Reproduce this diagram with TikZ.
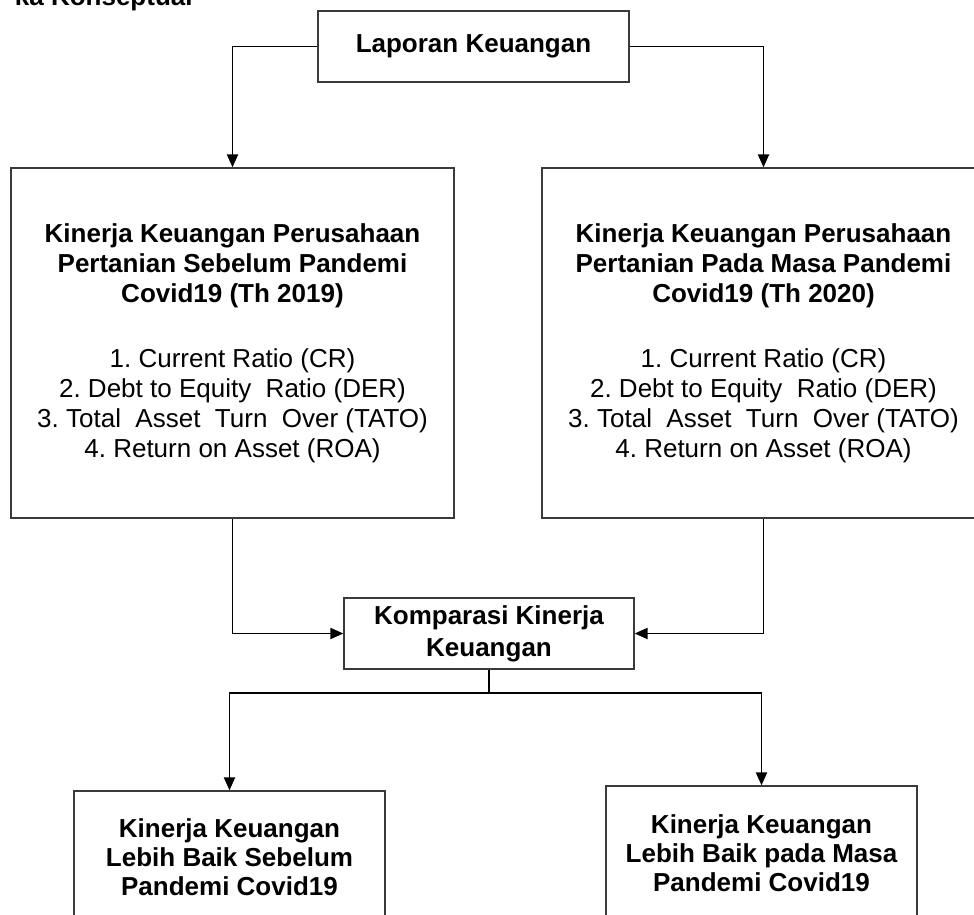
\documentclass[tikz,border=0pt]{standalone}
\usepackage{fontspec}
\setmainfont{Liberation Sans}
\usetikzlibrary{arrows.meta,positioning,calc}
\definecolor{garis}{HTML}{000000}
\definecolor{bingkai}{HTML}{3A3A3A}
\tikzset{
  kotak/.style={draw=bingkai, line width=0.7pt, align=center, inner sep=3pt,
                font=\fontsize{13}{15}\selectfont},
  kotakbawah/.style={kotak, font=\bfseries\fontsize{13}{14.5}\selectfont},
  panah/.style={-{Triangle[length=6.5pt,width=5.6pt]}, line width=0.85pt, draw=garis},
  hubung/.style={line width=0.85pt, draw=garis}
}
\newcommand{\judulbaris}[1]{{\bfseries #1}}
\frenchspacing

\begin{document}
\begin{tikzpicture}[x=0.5pt,y=-0.5pt]
  \useasboundingbox (0,0) rectangle (974,915);
  \clip (0,0) rectangle (974,915);
  % judul yang terpotong
  \node[anchor=base east, inner sep=0pt, font=\bfseries\fontsize{13}{15}\selectfont] (judul) at (193,6) {ka Konseptual};
  % kotak-kotak
  \node[kotak, font=\bfseries\fontsize{13}{15}\selectfont, minimum width=155.5pt, minimum height=35.5pt] (lap) at (473.5,46.5) {Laporan Keuangan};
  \node[kotak, minimum width=221.5pt, minimum height=175pt] (kin1) at (232.5,343) {%
    \judulbaris{Kinerja Keuangan Perusahaan}\\
    \judulbaris{Pertanian Sebelum Pandemi}\\
    \judulbaris{Covid19 (Th 2019)}\\[17.5pt]
    1. Current Ratio (CR)\\
    2. Debt to Equity~ Ratio (DER)\\
    3. Total~ Asset~ Turn~ Over (TATO)\\
    4. Return on Asset (ROA)};
  \node[kotak, minimum width=221.5pt, minimum height=175pt] (kin2) at (763.5,343) {%
    \judulbaris{Kinerja Keuangan Perusahaan}\\
    \judulbaris{Pertanian Pada Masa Pandemi}\\
    \judulbaris{Covid19 (Th 2020)}\\[17.5pt]
    1. Current Ratio (CR)\\
    2. Debt to Equity~ Ratio (DER)\\
    3. Total~ Asset~ Turn~ Over (TATO)\\
    4. Return on Asset (ROA)};
  \node[kotak, font=\bfseries\fontsize{13}{16}\selectfont, minimum width=145pt, minimum height=35.5pt] (kom) at (489,633.5) {Komparasi Kinerja\\Keuangan};
  \node[kotakbawah, minimum width=155.5pt, minimum height=66pt] (hasil1) at (229.5,857) {Kinerja Keuangan\\Lebih Baik Sebelum\\Pandemi Covid19};
  \node[kotakbawah, minimum width=155.5pt, minimum height=67pt] (hasil2) at (761.5,853) {Kinerja Keuangan\\Lebih Baik pada Masa\\Pandemi Covid19};
  \coordinate (cabang) at (489,693);
  % penghubung
  \draw[panah] (lap.west) -| (kin1.north);
  \draw[panah] (lap.east) -| (kin2.north);
  \draw[panah] (kin1.south) |- (kom.west);
  \draw[panah] (kin2.south) |- (kom.east);
  \draw[hubung] (kom.south) -- (cabang);
  \draw[panah] (cabang) -| (hasil1.north);
  \draw[panah] (cabang) -| (hasil2.north);
\end{tikzpicture}
\end{document}
